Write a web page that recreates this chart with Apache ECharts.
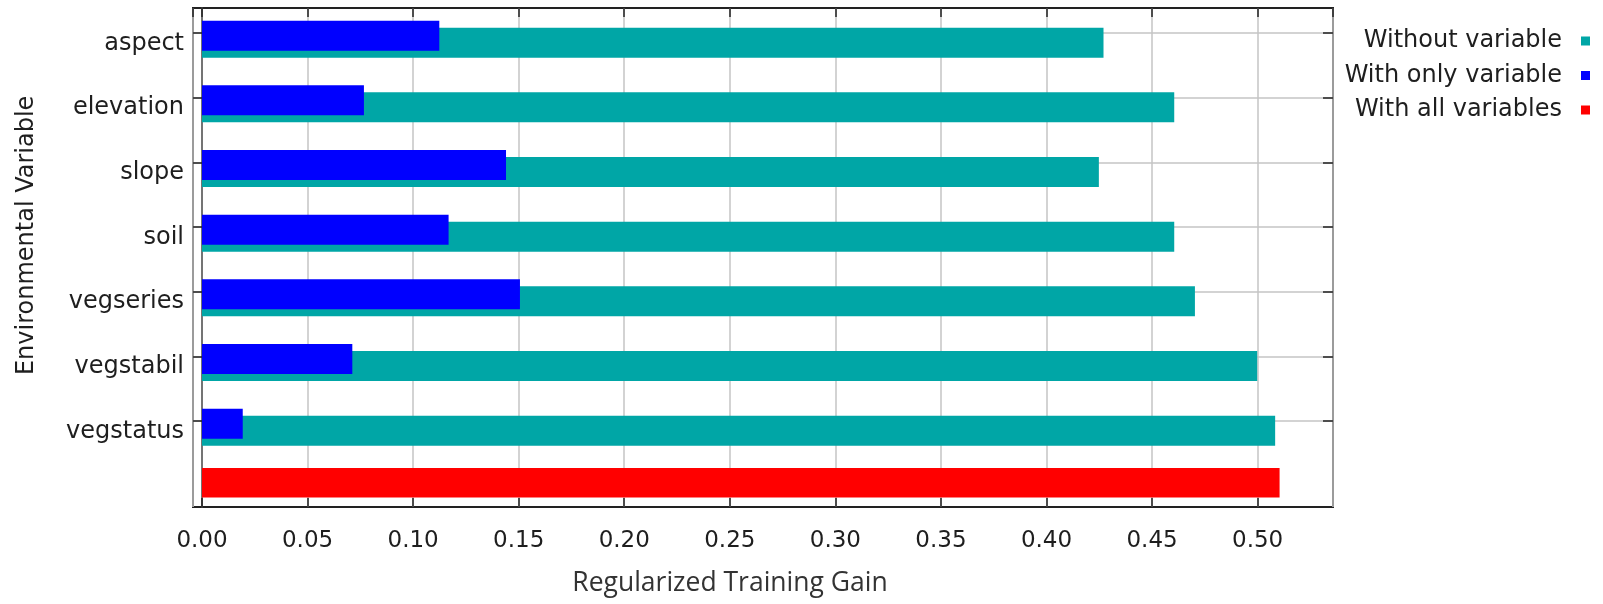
<!DOCTYPE html>
<html>
<head>
<meta charset="utf-8">
<title>Jackknife of regularized training gain</title>
<script src="https://cdn.jsdelivr.net/npm/echarts@6/dist/echarts.min.js"></script>
<style>
  html, body { margin: 0; padding: 0; background: #ffffff; }
  #chart { width: 1603px; height: 604px; }
</style>
</head>
<body>
<div id="chart"></div>
<script>
// Environmental variables (one row each) and the jackknife gains
const categories = ['aspect', 'elevation', 'slope', 'soil', 'vegseries', 'vegstabil', 'vegstatus'];
const withoutVariable = [0.427, 0.4605, 0.4248, 0.4605, 0.4703, 0.4998, 0.5083];
const withOnlyVariable = [0.1124, 0.0767, 0.1440, 0.1168, 0.1506, 0.0712, 0.0193];
const withAllVariables = [0.5104];
const seriesNames = ['Without variable', 'With only variable', 'With all variables'];

// Axis range of the plot frame
const X_MIN = -0.00426;
const X_MAX = 0.5357;

const FONT = 'DejaVu Sans';
const TEXT = '#1e1e1e';
const GRIDLINE = '#c4c4c4';

// Row labels; the last row holds the bar for the full model
const rowLabels = categories.concat(['']);
const nRows = categories.length;

function barRenderer(offsetPx, heightPx) {
  return function (params, api) {
    const row = api.value(1);
    const start = api.coord([0, row]);
    const end = api.coord([api.value(0), row]);
    return {
      type: 'rect',
      shape: {
        x: start[0],
        y: start[1] + offsetPx - heightPx / 2,
        width: end[0] - start[0],
        height: heightPx
      },
      style: { fill: api.visual('color') }
    };
  };
}

const chart = echarts.init(document.getElementById('chart'), null, { renderer: 'canvas' });

chart.setOption({
  animation: false,
  backgroundColor: '#ffffff',
  grid: [
    // plot frame: vertical grid lines, value ticks, zero line
    { left: 193, top: 8, width: 1140, height: 499, show: true,
      borderColor: '#222', borderWidth: 2, backgroundColor: 'transparent' },
    // variable rows
    { left: 193, top: 33, width: 1140, height: 452.67, show: false }
  ],
  legend: {
    orient: 'vertical',
    align: 'right',
    right: 8,
    top: 24,
    itemWidth: 9,
    itemHeight: 9,
    itemGap: 10.5,
    icon: 'rect',
    data: seriesNames,
    textStyle: { fontFamily: FONT, fontSize: 24, lineHeight: 24, color: TEXT, padding: [0, 14, 0, 0] }
  },
  xAxis: [
    {
      gridIndex: 0, type: 'value', position: 'bottom',
      min: X_MIN, max: X_MAX, splitNumber: 11, minInterval: 0.05, maxInterval: 0.05,
      name: 'Regularized Training Gain', nameLocation: 'middle', nameGap: 63,
      nameTextStyle: { fontFamily: 'Open Sans', fontSize: 26.5, color: '#333', padding: [0, 66, 0, 0] },
      axisLine: { show: false, onZero: false },
      axisTick: { show: true, inside: true, length: 9, lineStyle: { color: '#222', width: 1.5 } },
      axisLabel: {
        fontFamily: FONT, fontSize: 23, color: TEXT, margin: 22.5,
        showMinLabel: false, showMaxLabel: false,
        formatter: function (v) { return v.toFixed(2); }
      },
      splitLine: { show: true, lineStyle: { color: GRIDLINE, width: 1.5 } }
    },
    {
      gridIndex: 0, type: 'value', position: 'top',
      min: X_MIN, max: X_MAX, splitNumber: 11, minInterval: 0.05, maxInterval: 0.05,
      axisLine: { show: false, onZero: false },
      axisTick: { show: true, inside: true, length: 9, lineStyle: { color: '#222', width: 1.5 } },
      axisLabel: { show: false },
      splitLine: { show: false }
    },
    {
      gridIndex: 1, type: 'value', min: X_MIN, max: X_MAX, show: false
    }
  ],
  yAxis: [
    {
      // zero line of the gain axis
      gridIndex: 0, type: 'value', min: 0, max: 1,
      axisLine: { show: true, onZero: true, lineStyle: { color: '#555', width: 1.5 } },
      axisTick: { show: false }, axisLabel: { show: false }, splitLine: { show: false }
    },
    {
      gridIndex: 1, type: 'category', inverse: true, boundaryGap: false,
      data: rowLabels, position: 'left',
      name: 'Environmental Variable', nameLocation: 'middle', nameGap: 154,
      nameTextStyle: { fontFamily: FONT, fontSize: 24, color: TEXT, padding: [0, 0, 0, 48] },
      axisLine: { show: false, onZero: false },
      axisTick: { show: true, inside: true, length: 9,
        interval: function (i) { return i < nRows; },
        lineStyle: { color: '#222', width: 1.5 } },
      axisLabel: { interval: 0, fontFamily: FONT, fontSize: 24, lineHeight: 21,
        verticalAlign: 'top', color: TEXT, margin: 9 },
      splitLine: { show: true, interval: function (i) { return i < nRows; },
        lineStyle: { color: GRIDLINE, width: 1.5 } }
    },
    {
      gridIndex: 1, type: 'category', inverse: true, boundaryGap: false,
      data: rowLabels, position: 'right',
      axisLine: { show: false, onZero: false },
      axisTick: { show: true, inside: true, length: 10,
        interval: function (i) { return i < nRows; },
        lineStyle: { color: '#222', width: 1.5 } },
      axisLabel: { show: false },
      splitLine: { show: false }
    }
  ],
  series: [
    {
      name: seriesNames[0], type: 'custom', xAxisIndex: 2, yAxisIndex: 1,
      itemStyle: { color: '#00a6a6' },
      encode: { x: 0, y: 1 },
      renderItem: barRenderer(9.7, 30),
      data: withoutVariable.map(function (v, i) { return [v, i]; })
    },
    {
      name: seriesNames[1], type: 'custom', xAxisIndex: 2, yAxisIndex: 1,
      itemStyle: { color: '#0000ff' },
      encode: { x: 0, y: 1 },
      renderItem: barRenderer(2.7, 30),
      data: withOnlyVariable.map(function (v, i) { return [v, i]; })
    },
    {
      name: seriesNames[2], type: 'custom', xAxisIndex: 2, yAxisIndex: 1,
      itemStyle: { color: '#ff0000' },
      encode: { x: 0, y: 1 },
      renderItem: barRenderer(-3, 29.5),
      data: withAllVariables.map(function (v) { return [v, nRows]; })
    }
  ]
});
</script>
</body>
</html>
